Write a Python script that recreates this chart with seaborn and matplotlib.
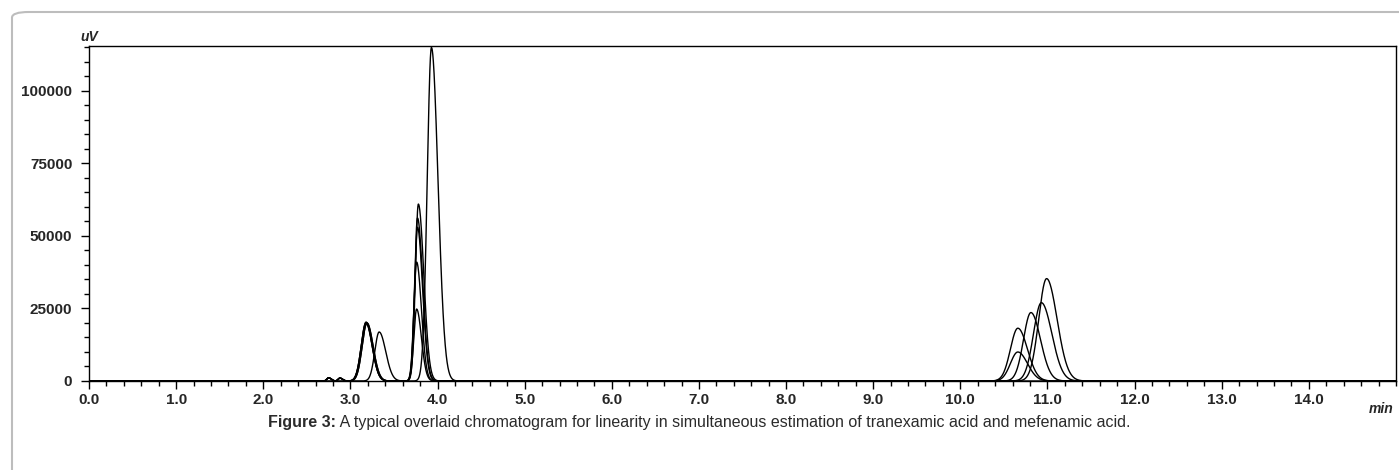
import numpy as np
import pandas as pd
import matplotlib.pyplot as plt
import seaborn as sns
from matplotlib.patches import FancyBboxPatch
from matplotlib.ticker import MultipleLocator

# peak tables, one list per trace
# each peak: retention time (min), height (uV), left sigma, right sigma
trace_names = ['Level 1', 'Level 2', 'Level 3', 'Level 4', 'Level 5', 'Level 6']
peaks_1 = [(2.75, 1100, 0.02, 0.03), (2.88, 1000, 0.02, 0.03), (3.18, 19800, 0.055, 0.070),
           (3.76, 24800, 0.032, 0.055), (10.66, 10000, 0.085, 0.11)]
peaks_2 = [(2.75, 1100, 0.02, 0.03), (2.88, 1000, 0.02, 0.03), (3.18, 20200, 0.055, 0.070),
           (3.76, 41000, 0.032, 0.055), (10.66, 18200, 0.085, 0.11)]
peaks_3 = [(2.75, 1100, 0.02, 0.03), (2.88, 1000, 0.02, 0.03), (3.19, 20000, 0.055, 0.070),
           (3.77, 53000, 0.033, 0.058), (10.81, 23600, 0.085, 0.11)]
peaks_4 = [(2.75, 1100, 0.02, 0.03), (2.88, 1000, 0.02, 0.03), (3.18, 20300, 0.055, 0.070),
           (3.77, 56200, 0.033, 0.060), (10.93, 27000, 0.09, 0.12)]
peaks_5 = [(2.75, 1100, 0.02, 0.03), (2.88, 1000, 0.02, 0.03), (3.19, 20000, 0.055, 0.070),
           (3.78, 61000, 0.034, 0.062), (10.99, 35300, 0.09, 0.12)]
peaks_6 = [(3.33, 16900, 0.050, 0.075), (3.93, 115000, 0.048, 0.075)]
all_peaks = [peaks_1, peaks_2, peaks_3, peaks_4, peaks_5, peaks_6]

x_ticks = [0.0, 1.0, 2.0, 3.0, 4.0, 5.0, 6.0, 7.0, 8.0, 9.0, 10.0, 11.0, 12.0, 13.0, 14.0]
y_ticks = [0, 25000, 50000, 75000, 100000]

t = np.linspace(0, 15, 7501)
rows = []
for name, peaks in zip(trace_names, all_peaks):
    sig = np.zeros_like(t)
    for rt, h, sl, sr in peaks:
        s = np.where(t < rt, sl, sr)
        sig += h * np.exp(-0.5 * ((t - rt) / s) ** 2)
    rows.append(pd.DataFrame({'time': t, 'signal': sig, 'trace': name}))
df = pd.concat(rows)

sns.set_style('white')
plt.rcParams['font.family'] = ['Liberation Sans', 'DejaVu Sans']

fig = plt.figure(figsize=(13.99, 4.70), dpi=100)
ax = fig.add_axes([89 / 1399, 1 - 381 / 470, (1396 - 89) / 1399, (381 - 46) / 470])

sns.lineplot(data=df, x='time', y='signal', units='trace', estimator=None,
             color='black', lw=1.0, ax=ax, legend=False)

ax.set_xlim(0, 15)
ax.set_ylim(0, 115500)
ax.set_xticks(x_ticks)
ax.set_xticklabels([f'{v:.1f}' for v in x_ticks], fontweight='bold', fontsize=11)
ax.set_yticks(y_ticks)
ax.set_yticklabels([str(v) for v in y_ticks], fontweight='bold', fontsize=11)
ax.xaxis.set_minor_locator(MultipleLocator(0.2))
ax.yaxis.set_minor_locator(MultipleLocator(5000))
ax.tick_params(which='major', length=6, width=1, color='black', direction='out')
ax.tick_params(which='minor', length=3.6, width=1, color='black', direction='out')
ax.tick_params(axis='x', which='major', pad=3)
ax.tick_params(axis='y', which='major', pad=6)
ax.tick_params(axis='x', which='both', bottom=True)
ax.tick_params(axis='y', which='both', left=True)
ax.set_xlabel('')
ax.set_ylabel('')
for sp in ax.spines.values():
    sp.set_color('black')
    sp.set_linewidth(1.0)

ax.text(0, 1.006, 'uV', transform=ax.transAxes, ha='center', va='bottom',
        fontsize=10, fontweight='bold', fontstyle='italic')
ax.text(0.998, -0.062, 'min', transform=ax.transAxes, ha='right', va='top',
        fontsize=10, fontweight='bold', fontstyle='italic')

# caption: bold label followed by normal text
cap_y = 1 - 422 / 470
lab = fig.text(268 / 1399, cap_y, 'Figure 3:', ha='left', va='center', fontsize=11.5,
               fontweight='bold', color='#2b2b2b')
fig.canvas.draw()
bb = lab.get_window_extent().transformed(fig.transFigure.inverted())
fig.text(bb.x1, cap_y,
         ' A typical overlaid chromatogram for linearity in simultaneous estimation of tranexamic acid and mefenamic acid.',
         ha='left', va='center', fontsize=11.5, color='#2b2b2b')

# rounded page frame
frame = FancyBboxPatch((12 / 1399, -0.1), 1.2, 1.1 - 12 / 470, boxstyle='round,pad=0,rounding_size=0.012',
                       transform=fig.transFigure, fill=False, edgecolor='#bdbdbd', lw=1.5, clip_on=False)
fig.patches.append(frame)

fig.savefig('out.png', dpi=100)
